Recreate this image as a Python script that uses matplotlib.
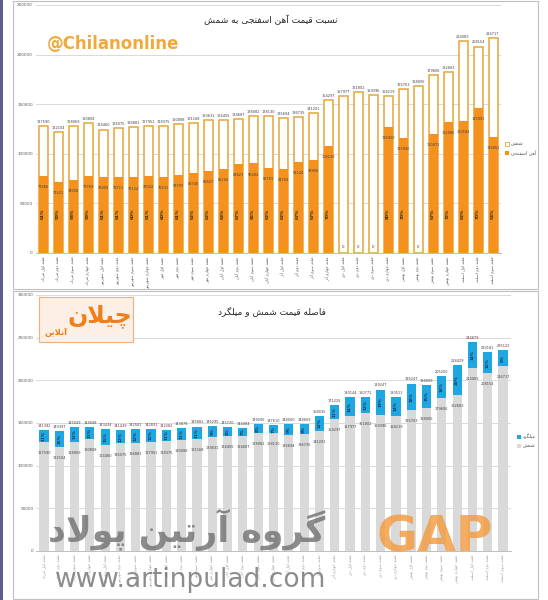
import numpy as np
import matplotlib
matplotlib.use("Agg")
import matplotlib.pyplot as plt
from matplotlib.patches import Rectangle

# --- data ---
weeks = ["هفته اول مرداد", "هفته دوم مرداد", "هفته سوم مرداد", "هفته چهارم مرداد",
         "هفته اول شهریور", "هفته دوم شهریور", "هفته سوم شهریور", "هفته چهارم شهریور",
         "هفته اول مهر", "هفته دوم مهر", "هفته سوم مهر", "هفته چهارم مهر",
         "هفته اول آبان", "هفته دوم آبان", "هفته سوم آبان", "هفته چهارم آبان",
         "هفته اول آذر", "هفته دوم آذر", "هفته سوم آذر", "هفته چهارم آذر",
         "هفته اول دی", "هفته دوم دی", "هفته سوم دی", "هفته چهارم دی",
         "هفته اول بهمن", "هفته دوم بهمن", "هفته سوم بهمن", "هفته چهارم بهمن",
         "هفته اول اسفند", "هفته دوم اسفند", "هفته سوم اسفند"]

billet = [127590, 122104, 128069, 130808, 124460, 126075, 126881, 127951, 128375, 130088,
          131168, 133631, 134455, 134687, 138082, 138130, 135694, 136735, 141201, 154297,
          157977, 161802, 159396, 158219, 165703, 168006, 179606, 182683, 214083, 208154, 216717]

sponge = [77466, 71521, 74058, 77769, 76409, 76711, 76124, 78022, 76531, 78797,
          80740, 82527, 85104, 89821, 90284, 85781, 84704, 92144, 93956, 108130,
          0, 0, 0, 126920, 115940, 0, 120072, 132085, 133184, 145901, 116852]

rebar = [141392, 140397, 145049, 144848, 143434, 141439, 142581, 142831, 142282, 143878,
         145882, 146295, 145720, 144484, 149206, 147610, 148500, 148609, 158035, 171225,
         180144, 180771, 189247, 180511, 196247, 194009, 205250, 218429, 244879, 233181, 235122]

# --- persian text shaping (matplotlib draws glyphs left to right, unjoined) ---
FORMS = {
    'ا': (0xFE8D, 0xFE8E, None, None), 'آ': (0xFE81, 0xFE82, None, None),
    'ب': (0xFE8F, 0xFE90, 0xFE91, 0xFE92), 'پ': (0xFB56, 0xFB57, 0xFB58, 0xFB59),
    'ت': (0xFE95, 0xFE96, 0xFE97, 0xFE98), 'ج': (0xFE9D, 0xFE9E, 0xFE9F, 0xFEA0),
    'چ': (0xFB7A, 0xFB7B, 0xFB7C, 0xFB7D), 'د': (0xFEA9, 0xFEAA, None, None),
    'ذ': (0xFEAB, 0xFEAC, None, None), 'ر': (0xFEAD, 0xFEAE, None, None),
    'ز': (0xFEAF, 0xFEB0, None, None), 'س': (0xFEB1, 0xFEB2, 0xFEB3, 0xFEB4),
    'ش': (0xFEB5, 0xFEB6, 0xFEB7, 0xFEB8), 'ص': (0xFEB9, 0xFEBA, 0xFEBB, 0xFEBC),
    'ف': (0xFED1, 0xFED2, 0xFED3, 0xFED4), 'ق': (0xFED5, 0xFED6, 0xFED7, 0xFED8),
    'ک': (0xFB8E, 0xFB8F, 0xFB90, 0xFB91), 'گ': (0xFB92, 0xFB93, 0xFB94, 0xFB95),
    'ل': (0xFEDD, 0xFEDE, 0xFEDF, 0xFEE0), 'م': (0xFEE1, 0xFEE2, 0xFEE3, 0xFEE4),
    'ن': (0xFEE5, 0xFEE6, 0xFEE7, 0xFEE8), 'و': (0xFEED, 0xFEEE, None, None),
    'ه': (0xFEE9, 0xFEEA, 0xFEEB, 0xFEEC), 'ی': (0xFBFC, 0xFBFD, 0xFBFE, 0xFBFF),
}
LAMALEF = {'ا': (0xFEFB, 0xFEFC), 'آ': (0xFEF5, 0xFEF6)}


def fa(text):
    out = []
    i = 0
    while i < len(text):
        c = text[i]
        prev = text[i - 1] if i > 0 else ''
        pj = prev in FORMS and FORMS[prev][2] is not None
        if c == 'ل' and i + 1 < len(text) and text[i + 1] in LAMALEF:
            lig = LAMALEF[text[i + 1]]
            out.append(chr(lig[1] if pj else lig[0]))
            i += 2
            continue
        if c not in FORMS:
            out.append(c)
            i += 1
            continue
        iso, fin, ini, med = FORMS[c]
        nxt = text[i + 1] if i + 1 < len(text) else ''
        nj = ini is not None and nxt in FORMS
        if pj and nj:
            f = med
        elif pj:
            f = fin
        elif nj:
            f = ini
        else:
            f = iso
        out.append(chr(f))
        i += 1
    return ''.join(out)[::-1]


W, H = 548, 600
ORANGE = '#F5921E'
GOLD = '#E6A63A'
GRAY = '#D9D9D9'
BLUE = '#1EA7E1'
TXT = '#404040'


def fx(px):
    return px / W


def fy(py):
    return 1 - py / H


fig = plt.figure(figsize=(5.48, 6.0), dpi=100)
fig.patch.set_facecolor('white')

# panel frames
fig.add_artist(Rectangle((fx(13), fy(289)), fx(525), 288 / H, transform=fig.transFigure,
                         fill=False, ec='#BFBFBF', lw=0.8))
fig.add_artist(Rectangle((fx(13), fy(599)), fx(525), 308 / H, transform=fig.transFigure,
                         fill=False, ec='#BFBFBF', lw=0.8))
fig.add_artist(Rectangle((0, 0), fx(3), 1, transform=fig.transFigure,
                         fc='#5D5D8C', ec='none'))

x = np.arange(len(weeks))


def style_axis(ax, top, step):
    ax.set_xlim(-0.5, len(weeks) - 0.5)
    ax.set_ylim(0, top)
    ax.set_yticks(np.arange(0, top + 1, step))
    ax.yaxis.grid(True, color='#D9D9D9', lw=0.7)
    ax.set_axisbelow(True)
    for s in ['top', 'right', 'left']:
        ax.spines[s].set_visible(False)
    ax.spines['bottom'].set_color('#BFBFBF')
    ax.spines['bottom'].set_linewidth(0.7)
    ax.tick_params(axis='y', length=0, labelsize=3.0, colors='#595959', pad=2)
    ax.tick_params(axis='x', length=0, colors='#595959', pad=2.5)
    ax.set_xticks(x)
    ax.set_xticklabels([fa(w) for w in weeks], rotation=90, fontsize=2.9, va='top')


# ---------- top chart: sponge iron vs billet ----------
ax1 = fig.add_axes([fx(35.5), fy(253), (500.5 - 35.5) / W, 248 / H])
style_axis(ax1, 250000, 50000)
ax1.bar(x, billet, width=0.6, color='white', edgecolor=GOLD, lw=1.1, zorder=2)
ax1.bar(x, sponge, width=0.6, color=ORANGE, edgecolor='none', zorder=3)

for i in range(len(weeks)):
    ax1.annotate(str(billet[i]), (i, billet[i]), xytext=(0, 1.5), textcoords='offset points',
                 ha='center', va='bottom', fontsize=2.5, color=TXT)
    if sponge[i] == 0:
        ax1.annotate('0', (i, 0), xytext=(0, 4), textcoords='offset points',
                     ha='center', va='center', fontsize=2.8, color=TXT, zorder=4)
    else:
        ax1.annotate(str(sponge[i]), (i, sponge[i]), xytext=(0, -8), textcoords='offset points',
                     ha='center', va='center', fontsize=2.5, color=TXT, zorder=4)
        pct = round(100 * sponge[i] / billet[i])
        ax1.text(i, 40000, f"{pct}%", rotation=90, ha='center', va='center',
                 fontsize=3.2, fontweight='bold', color='#3A2A10', zorder=4)

fig.text(fx(271), fy(20), fa("نسبت قیمت آهن اسفنجی به شمش"), ha='center', va='center',
         fontsize=6.5, color='#262626')
fig.text(fx(47), fy(44), "@Chilanonline", ha='left', va='center', fontsize=12,
         fontweight='bold', color='#F2A93B')

# legend top
fig.add_artist(Rectangle((fx(505), fy(146)), fx(4), 4 / H, transform=fig.transFigure,
                         fc='white', ec=GOLD, lw=0.6))
fig.text(fx(511), fy(144), fa("شمش"), fontsize=3.4, color='#595959', va='center')
fig.add_artist(Rectangle((fx(505), fy(155)), fx(4), 4 / H, transform=fig.transFigure,
                         fc=ORANGE, ec='none'))
fig.text(fx(511), fy(153), fa("آهن اسفنجی"), fontsize=3.4, color='#595959', va='center')

# ---------- bottom chart: billet vs rebar gap ----------
gap = [r - b for r, b in zip(rebar, billet)]
ax2 = fig.add_axes([fx(36.3), fy(551), (510.7 - 36.3) / W, 256 / H])
style_axis(ax2, 300000, 50000)
for lab in ax2.get_xticklabels():
    lab.set_color('#A0A0A0')
ax2.bar(x, billet, width=0.6, color=GRAY, zorder=2)
ax2.bar(x, gap, bottom=billet, width=0.6, color=BLUE, zorder=2)

for i in range(len(weeks)):
    ax2.annotate(str(rebar[i]), (i, rebar[i]), xytext=(0, 1.5), textcoords='offset points',
                 ha='center', va='bottom', fontsize=2.5, color=TXT)
    ax2.annotate(str(billet[i]), (i, billet[i]), xytext=(0, -8), textcoords='offset points',
                 ha='center', va='center', fontsize=2.5, color=TXT, zorder=3)
    pct = round(100 * gap[i] / billet[i])
    ax2.text(i, billet[i] + gap[i] / 2, f"{pct}%", rotation=90, ha='center', va='center',
             fontsize=3.0, fontweight='bold', color='#1F3864', zorder=3)

fig.text(fx(272), fy(311), fa("فاصله قیمت شمش و میلگرد"), ha='center', va='center',
         fontsize=6.5, color='#262626')

# chilan logo box
fig.add_artist(Rectangle((fx(39), fy(342)), fx(94), 45 / H, transform=fig.transFigure,
                         fc='#FBEFE6', ec='#F3B07A', lw=0.8))
fig.text(fx(100), fy(316), fa("چیلان"), ha='center', va='center', fontsize=17,
         fontweight='bold', color='#F07E1B')
fig.text(fx(56), fy(332), fa("آنلاین"), ha='center', va='center', fontsize=6,
         fontweight='bold', color='#F07E1B')

# legend bottom
fig.add_artist(Rectangle((fx(517), fy(439)), fx(4), 4 / H, transform=fig.transFigure,
                         fc=BLUE, ec='none'))
fig.text(fx(523), fy(437), fa("میلگرد"), fontsize=3.4, color='#595959', va='center')
fig.add_artist(Rectangle((fx(517), fy(448)), fx(4), 4 / H, transform=fig.transFigure,
                         fc=GRAY, ec='none'))
fig.text(fx(523), fy(446), fa("شمش"), fontsize=3.4, color='#595959', va='center')

# watermark
fig.text(fx(187), fy(530), fa("گروه آرتین پولاد"), ha='center', va='center', fontsize=25,
         fontweight='bold', color='#707070', alpha=0.8)
fig.text(fx(191), fy(580), "www.artinpulad.com", ha='center', va='center', fontsize=19,
         color='#707070', alpha=0.8)
fig.text(fx(435), fy(538), "GAP", ha='center', va='center', fontsize=36,
         fontweight='bold', color='#F39A3A', alpha=0.8)

fig.savefig("out.png", dpi=100)
